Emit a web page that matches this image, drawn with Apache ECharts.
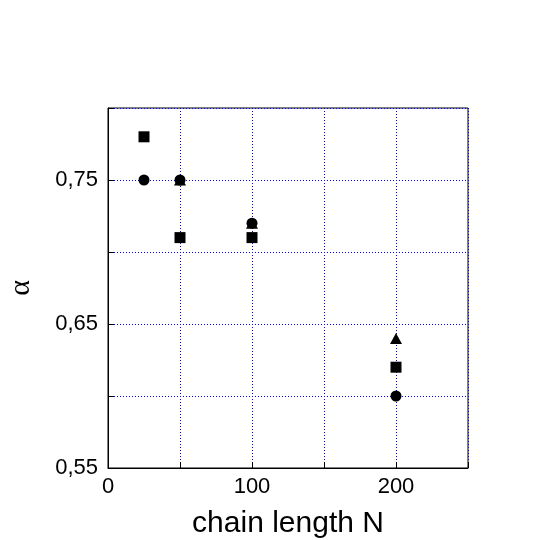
<!DOCTYPE html>
<html><head><meta charset="utf-8">
<script src="https://cdn.jsdelivr.net/npm/echarts@6/dist/echarts.min.js"></script>
<style>html,body{margin:0;padding:0;background:#fff}#c{width:540px;height:540px}</style>
</head><body><div id="c"></div>
<script>
var triangleData = [[50, 0.75], [100, 0.72], [200, 0.64]];
var squareData = [[25, 0.78], [50, 0.71], [100, 0.71], [200, 0.62]];
var circleData = [[25, 0.75], [50, 0.75], [100, 0.72], [200, 0.60]];
var xLabels = ['0', '100', '200'];
var yLabels = ['0,55', '0,65', '0,75'];

var chart = echarts.init(document.getElementById('c'));
var font = 'Liberation Sans, Arial, Helvetica, sans-serif';
function fmtY(v) {
  var s = v.toFixed(2).replace('.', ',');
  return yLabels.indexOf(s) >= 0 ? s : '';
}
function fmtX(v) {
  var s = String(Math.round(v));
  return xLabels.indexOf(s) >= 0 ? s : '';
}
var grid = {color: '#0000ff', type: [1, 2], width: 1, opacity: 1};
chart.setOption({
  animation: false,
  backgroundColor: '#fff',
  grid: {left: 108, top: 108, width: 360, height: 360, containLabel: false, outerBoundsMode: 'none', show: true, borderColor: '#000', borderWidth: 1},
  xAxis: {
    type: 'value', min: 0, max: 250, interval: 50,
    name: 'chain length N', nameLocation: 'middle', nameGap: 41,
    nameTextStyle: {fontFamily: font, fontSize: 30, color: '#000'},
    axisLine: {lineStyle: {color: '#000', width: 1}},
    axisTick: {inside: true, length: 6, lineStyle: {color: '#000'}},
    axisLabel: {formatter: fmtX, fontFamily: font, fontSize: 22, color: '#000', margin: 8},
    splitLine: {show: true, lineStyle: grid}
  },
  yAxis: {
    type: 'value', min: 0.55, max: 0.8, interval: 0.05,
    name: 'α', nameLocation: 'middle', nameGap: 72, nameRotate: 90,
    nameTextStyle: {fontFamily: 'Liberation Serif, DejaVu Serif, serif', fontSize: 30, color: '#000'},
    axisLine: {lineStyle: {color: '#000', width: 1}},
    axisTick: {inside: true, length: 6, lineStyle: {color: '#000'}},
    axisLabel: {formatter: fmtY, fontFamily: font, fontSize: 22, color: '#000', margin: 10},
    splitLine: {show: true, lineStyle: grid}
  },
  series: [
    {type: 'scatter', data: triangleData, symbol: 'triangle', symbolSize: [12, 11], itemStyle: {color: '#000', opacity: 1}, z: 2},
    {type: 'scatter', data: squareData, symbol: 'rect', symbolSize: 11, itemStyle: {color: '#000', opacity: 1}, z: 3},
    {type: 'scatter', data: circleData, symbol: 'circle', symbolSize: 11, itemStyle: {color: '#000', opacity: 1}, z: 4}
  ]
});
</script></body></html>
